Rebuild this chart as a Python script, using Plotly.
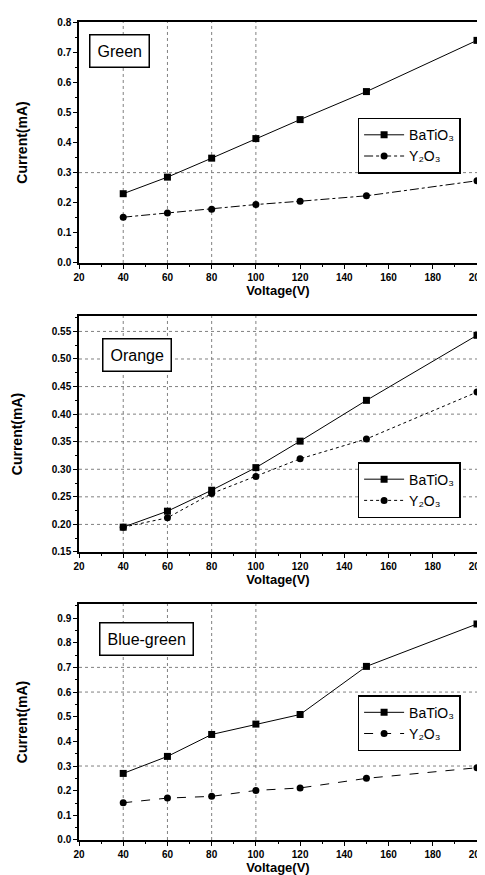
import plotly.graph_objects as go

voltage = [40, 60, 80, 100, 120, 150, 200]

green_batio3 = [0.230, 0.285, 0.348, 0.413, 0.476, 0.569, 0.739]
green_y2o3 = [0.152, 0.166, 0.178, 0.194, 0.205, 0.223, 0.273]

orange_batio3 = [0.195, 0.224, 0.262, 0.303, 0.351, 0.425, 0.543]
orange_y2o3 = [0.195, 0.212, 0.256, 0.287, 0.319, 0.355, 0.440]

bluegreen_batio3 = [0.270, 0.339, 0.428, 0.470, 0.509, 0.704, 0.876]
bluegreen_y2o3 = [0.151, 0.170, 0.177, 0.201, 0.211, 0.250, 0.293]

panel_names = ["Green", "Orange", "Blue-green"]
series_names = ["BaTiO₃", "Y₂O₃"]

x_ticks = [20, 40, 60, 80, 100, 120, 140, 160, 180, 200]
y_ticks_1 = [0.0, 0.1, 0.2, 0.3, 0.4, 0.5, 0.6, 0.7, 0.8]
y_ticks_2 = [0.15, 0.20, 0.25, 0.30, 0.35, 0.40, 0.45, 0.50, 0.55]
y_ticks_3 = [0.0, 0.1, 0.2, 0.3, 0.4, 0.5, 0.6, 0.7, 0.8, 0.9]

grid_x = [40, 60, 80, 100]
grid_y_1 = [0.3]
grid_y_2 = [0.20, 0.25, 0.30, 0.35, 0.40, 0.45, 0.50, 0.55]
grid_y_3 = [0.3, 0.6, 0.7]

FONT = "Liberation Sans, Arial, sans-serif"

panels = [
    (green_batio3, green_y2o3, ("solid", "dashdot"), y_ticks_1, [0, 0.8], grid_y_1, "0.1f"),
    (orange_batio3, orange_y2o3, ("solid", "dot"), y_ticks_2, [0.15, 0.578], grid_y_2, "0.2f"),
    (bluegreen_batio3, bluegreen_y2o3, ("solid", "dash"), y_ticks_3, [0, 0.957], grid_y_3, "0.1f"),
]
domains = [[0.7054, 1.0], [0.3521, 0.6406], [0.0, 0.2885]]
legend_tops = [0.883, 0.462, 0.177]
title_pos = [(0.103, 0.9645), (0.145, 0.5935), (0.170, 0.2457)]

fig = go.Figure()
shapes = []
annotations = []
layout = {}

for i, (ba, yo, dashes, yt, yr, gy, fmt) in enumerate(panels):
    n = i + 1
    xa = "x" if n == 1 else f"x{n}"
    ya = "y" if n == 1 else f"y{n}"
    lg = "legend" if n == 1 else f"legend{n}"
    fig.add_trace(go.Scatter(
        x=voltage, y=ba, mode="lines+markers", name=series_names[0],
        xaxis=xa, yaxis=ya, legend=lg,
        line=dict(color="black", width=1, dash=dashes[0]),
        marker=dict(symbol="square", size=7, color="black"),
    ))
    fig.add_trace(go.Scatter(
        x=voltage, y=yo, mode="lines+markers", name=series_names[1],
        xaxis=xa, yaxis=ya, legend=lg,
        line=dict(color="black", width=1, dash=dashes[1]),
        marker=dict(symbol="circle", size=7, color="black"),
    ))
    axis_common = dict(
        showline=True, linecolor="black", linewidth=1.5, mirror=True,
        showgrid=False, zeroline=False,
        ticks="outside", ticklen=4, tickwidth=1, tickcolor="black",
        tickfont=dict(family=FONT, size=10, color="black", weight="bold"),
    )
    layout[f"xaxis{'' if n == 1 else n}"] = dict(
        axis_common, domain=[0, 1], anchor=ya, range=[20, 200],
        tickvals=x_ticks,
        minor=dict(ticks="outside", ticklen=2, dtick=10, tickcolor="black", showgrid=False),
        title=dict(text="Voltage(V)", font=dict(family=FONT, size=13, color="black", weight="bold"), standoff=2),
    )
    layout[f"yaxis{'' if n == 1 else n}"] = dict(
        axis_common, domain=domains[i], anchor=xa, range=yr,
        tickvals=yt, tickformat=fmt,
        minor=dict(ticks="outside", ticklen=2, dtick=(yt[1] - yt[0]) / 2, tickcolor="black", showgrid=False),
        title=dict(text="Current(mA)", font=dict(family=FONT, size=14, color="black", weight="bold"), standoff=26),
    )
    layout[lg] = dict(
        x=0.70, y=legend_tops[i], xanchor="left", yanchor="top",
        xref="paper", yref="paper",
        bgcolor="white", bordercolor="black", borderwidth=1.5,
        font=dict(family=FONT, size=14, color="black"),
        tracegroupgap=0, itemwidth=40,
    )
    for gx in grid_x:
        shapes.append(dict(type="line", xref=xa, yref=f"{ya} domain", x0=gx, x1=gx, y0=0, y1=1,
                           line=dict(color="gray", width=1, dash="dot"), layer="below"))
    for g in gy:
        shapes.append(dict(type="line", xref=f"{xa} domain", yref=ya, x0=0, x1=1, y0=g, y1=g,
                           line=dict(color="gray", width=1, dash="dot"), layer="below"))
    tx, ty = title_pos[i]
    annotations.append(dict(
        text=panel_names[i], x=tx, y=ty, xref="paper", yref="paper",
        xanchor="center", yanchor="middle", showarrow=False,
        font=dict(family=FONT, size=16, color="black"),
        bordercolor="black", borderwidth=1.5, borderpad=7, bgcolor="white",
    ))

fig.update_layout(
    **layout,
    width=485, height=875,
    margin=dict(l=71, r=7, t=14, b=43),
    paper_bgcolor="white", plot_bgcolor="white",
    shapes=shapes, annotations=annotations,
    showlegend=True,
)

fig.write_html("out.html")
